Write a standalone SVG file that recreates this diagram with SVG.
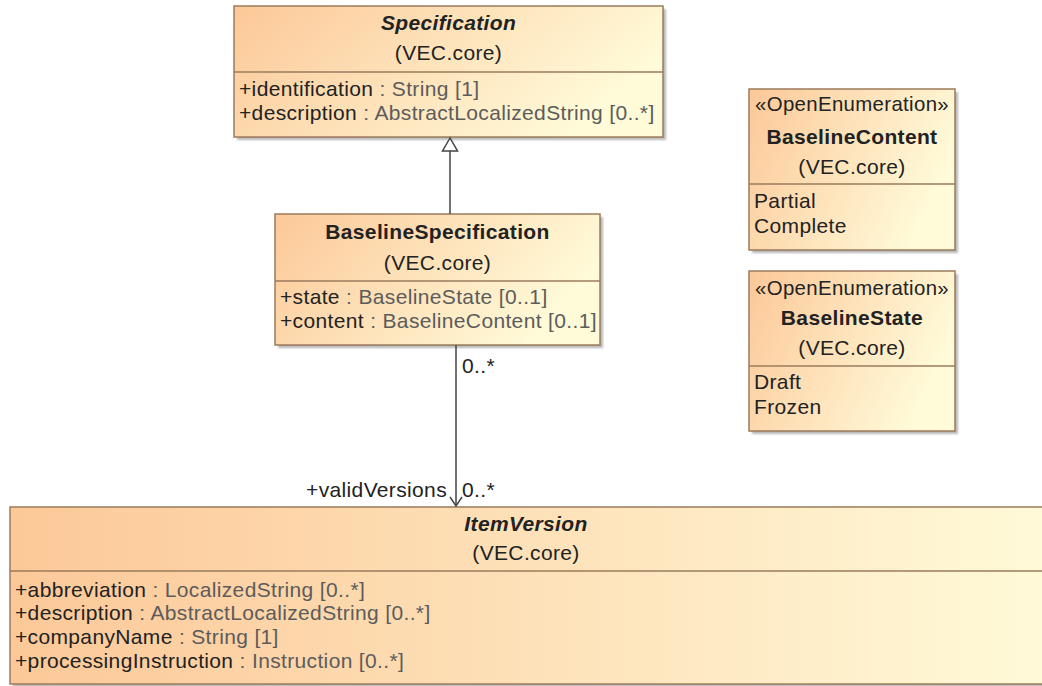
<svg xmlns="http://www.w3.org/2000/svg" width="1042" height="686" viewBox="0 0 1042 686">
<defs>
<linearGradient id="g" x1="0" y1="0" x2="1" y2="0.35">
<stop offset="0" stop-color="#fcc898"/>
<stop offset="1" stop-color="#fffad8"/>
</linearGradient>
<linearGradient id="gw" x1="0" y1="0" x2="1" y2="0">
<stop offset="0" stop-color="#fcc898"/>
<stop offset="1" stop-color="#fffad8"/>
</linearGradient>
<filter id="sh" x="-5%" y="-5%" width="115%" height="115%">
<feGaussianBlur stdDeviation="1"/>
</filter>
</defs>
<style>
.box{fill:url(#g);stroke:#9a7b5c;stroke-width:1.5}
.shadow{fill:#9a9a9a;opacity:0.7}
.div{stroke:#9a7b5c;stroke-width:1.5}
text{font-family:"Liberation Sans",Arial,sans-serif;font-size:21px;letter-spacing:0.35px;fill:#222}
.t{font-weight:bold;text-anchor:middle}
.ti{font-weight:bold;font-style:italic;text-anchor:middle}
.c{text-anchor:middle}
.ty{fill:#5c5c5c}
.ln{stroke:#444;stroke-width:1.5;fill:none}
</style>
<rect width="1042" height="686" fill="#ffffff"/>

<g id="Specification">
<rect class="shadow" x="237" y="9" width="429" height="131" filter="url(#sh)"/>
<rect class="box" x="234" y="6" width="429" height="131"/>
<line class="div" x1="234" y1="72" x2="663" y2="72"/>
<text class="ti" x="448.5" y="30">Specification</text>
<text class="c" x="448.5" y="60">(VEC.core)</text>
<text x="239" y="96">+identification<tspan class="ty"> : String [1]</tspan></text>
<text x="239" y="120">+description<tspan class="ty"> : AbstractLocalizedString [0..*]</tspan></text>
</g>

<g id="BaselineSpecification">
<rect class="shadow" x="278" y="217" width="325" height="131" filter="url(#sh)"/>
<rect class="box" x="275" y="214" width="325" height="131"/>
<line class="div" x1="275" y1="281" x2="600" y2="281"/>
<text class="t" x="437.5" y="239">BaselineSpecification</text>
<text class="c" x="437.5" y="270">(VEC.core)</text>
<text x="280" y="304">+state<tspan class="ty"> : BaselineState [0..1]</tspan></text>
<text x="280" y="328">+content<tspan class="ty"> : BaselineContent [0..1]</tspan></text>
</g>

<g id="BaselineContent">
<rect class="shadow" x="752" y="92" width="206" height="161" filter="url(#sh)"/>
<rect class="box" x="749" y="89" width="206" height="161"/>
<line class="div" x1="749" y1="184" x2="955" y2="184"/>
<text class="c" x="852" y="111" textLength="194" lengthAdjust="spacingAndGlyphs">«OpenEnumeration»</text>
<text class="t" x="852" y="144">BaselineContent</text>
<text class="c" x="852" y="174">(VEC.core)</text>
<text x="754" y="208">Partial</text>
<text x="754" y="233">Complete</text>
</g>

<g id="BaselineState">
<rect class="shadow" x="752" y="274" width="206" height="160" filter="url(#sh)"/>
<rect class="box" x="749" y="271" width="206" height="160"/>
<line class="div" x1="749" y1="366" x2="955" y2="366"/>
<text class="c" x="852" y="295" textLength="194" lengthAdjust="spacingAndGlyphs">«OpenEnumeration»</text>
<text class="t" x="852" y="325">BaselineState</text>
<text class="c" x="852" y="355">(VEC.core)</text>
<text x="754" y="389">Draft</text>
<text x="754" y="414">Frozen</text>
</g>

<g id="ItemVersion">
<rect class="shadow" x="13" y="510" width="1040" height="177" filter="url(#sh)"/>
<rect x="10" y="507" width="1040" height="177" fill="url(#gw)" stroke="#9a7b5c" stroke-width="1.5"/>
<line class="div" x1="10" y1="571" x2="1042" y2="571"/>
<text class="ti" x="526" y="531">ItemVersion</text>
<text class="c" x="526" y="560">(VEC.core)</text>
<text x="15" y="597">+abbreviation<tspan class="ty"> : LocalizedString [0..*]</tspan></text>
<text x="15" y="620">+description<tspan class="ty"> : AbstractLocalizedString [0..*]</tspan></text>
<text x="15" y="644">+companyName<tspan class="ty"> : String [1]</tspan></text>
<text x="15" y="668">+processingInstruction<tspan class="ty"> : Instruction [0..*]</tspan></text>
</g>

<g id="connectors">
<line class="ln" x1="450" y1="214" x2="450" y2="151"/>
<polygon points="450,138 442.5,151 457.5,151" fill="#ffffff" stroke="#444" stroke-width="1.5"/>
<line class="ln" x1="456" y1="345" x2="456" y2="506"/>
<polyline class="ln" points="450,497 456,506 462,497"/>
<text x="462" y="373">0..*</text>
<text x="447" y="497" text-anchor="end">+validVersions</text>
<text x="462" y="497">0..*</text>
</g>
</svg>
